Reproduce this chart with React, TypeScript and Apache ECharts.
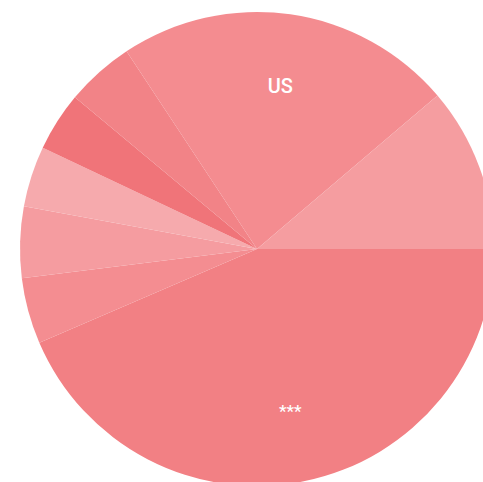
import React, { useEffect, useRef } from "react";
import * as echarts from "echarts";

const categories = ["***", "A", "B", "C", "D", "E", "US", "F"];
const values = [156.7, 16.2, 17.5, 14.9, 14.5, 16.8, 83.0, 40.4];
const colors = ["#f28084", "#f48d91", "#f59ca0", "#f6aaad", "#f07479", "#f28387", "#f48c90", "#f59da0"];
const shownLabels = ["US", "***"];
const labelSizes = { US: 20, "***": 17 } as Record<string, number>;

export default function App() {
  const ref = useRef<HTMLDivElement>(null);
  useEffect(() => {
    document.body.style.margin = "0";
    const chart = echarts.init(ref.current!, undefined, { renderer: "svg" });
    const data = categories.map((name, i) => ({
      name,
      value: values[i],
      itemStyle: { color: colors[i] },
    }));
    const labelData = categories.map((name, i) => ({
      name,
      value: values[i],
      label: { show: shownLabels.includes(name), fontSize: labelSizes[name] || 16 },
    }));
    chart.setOption({
      animation: false,
      series: [
        {
          type: "pie",
          center: [257, 249],
          radius: [0, 237],
          startAngle: 0,
          clockwise: true,
          silent: true,
          label: { show: false },
          labelLine: { show: false },
          itemStyle: { borderWidth: 0 },
          data,
        },
        {
          type: "pie",
          center: [257, 249],
          radius: [87, 237],
          startAngle: 0,
          clockwise: true,
          silent: true,
          itemStyle: { color: "rgba(0,0,0,0)", borderWidth: 0 },
          label: {
            position: "inside",
            formatter: "{b}",
            color: "#ffffff",
            fontFamily: "Roboto",
            fontWeight: 500,
          },
          labelLine: { show: false },
          data: labelData,
        },
      ],
    });
    return () => chart.dispose();
  }, []);
  return <div ref={ref} style={{ width: 483, height: 482 }} />;
}
